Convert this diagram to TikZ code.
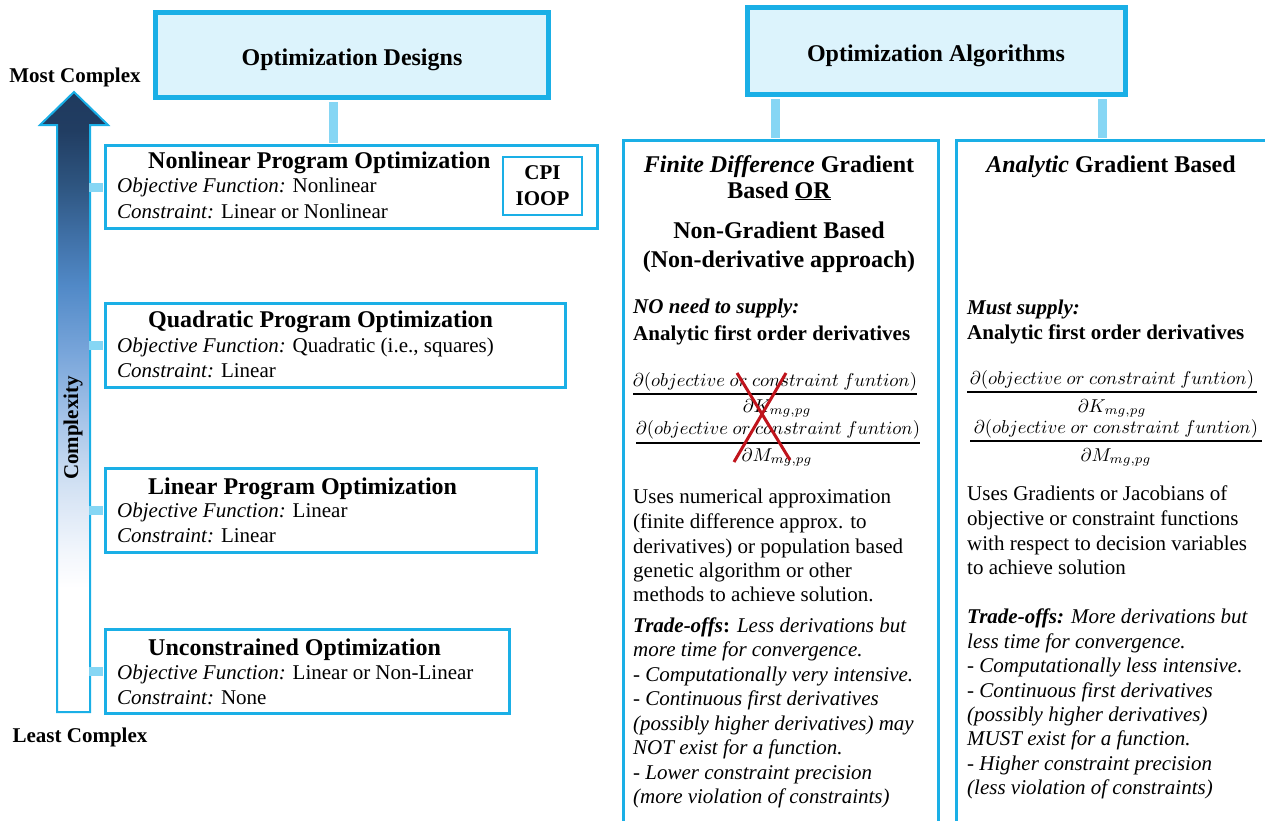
\documentclass[tikz,border=0pt]{standalone}
\usepackage{fontspec}
\setmainfont{Liberation Serif}
\definecolor{bord}{HTML}{1AAFE6}
\definecolor{conn}{HTML}{86D6F4}
\definecolor{hfill}{HTML}{DCF3FC}
\definecolor{xred}{HTML}{C0141C}
\definecolor{g1}{HTML}{1F3A5E}
\definecolor{g2}{HTML}{213D62}
\definecolor{g3}{HTML}{2E5580}
\definecolor{g4}{HTML}{3F6FA5}
\definecolor{g5}{HTML}{5189C7}
\definecolor{g6}{HTML}{78A5DA}
\definecolor{g7}{HTML}{A5C3E8}
\definecolor{g8}{HTML}{D2E1F3}
\definecolor{g9}{HTML}{F2F6FC}
\pgfdeclareverticalshading{cplxshade}{100bp}{color(0bp)=(white); color(35bp)=(white);
 color(37.9bp)=(g9); color(43.3bp)=(g8); color(48.7bp)=(g7); color(54bp)=(g6);
 color(59.4bp)=(g5); color(63.5bp)=(g4); color(67.5bp)=(g3); color(71.9bp)=(g2);
 color(75bp)=(g1); color(100bp)=(g1)}
\tikzset{
 hdr/.style={draw=bord, fill=hfill, line width=5pt, inner sep=0},
 hdrtxt/.style={font=\fontsize{24}{28}\selectfont\bfseries, anchor=base, inner sep=0},
 lbox/.style={draw=bord, line width=3pt, anchor=north west, inner sep=0},
 cbox/.style={draw=bord, line width=2.5pt, anchor=north west, inner sep=0},
 link/.style={draw=conn, line width=9pt},
 ttl/.style={font=\fontsize{24}{28}\selectfont\bfseries, anchor=base west, inner sep=0},
 ctl/.style={font=\fontsize{24}{28}\selectfont\bfseries, anchor=base, inner sep=0},
 txt/.style={font=\fontsize{21}{25}\selectfont, anchor=base west, inner sep=0},
 btxt/.style={font=\fontsize{21}{25}\selectfont\bfseries, anchor=base west, inner sep=0},
 itxt/.style={font=\fontsize{21}{25}\selectfont\itshape, anchor=base west, inner sep=0},
 lbl/.style={font=\fontsize{21}{25}\selectfont\bfseries, inner sep=0},
 fracpart/.style={font=\fontsize{10}{12}\selectfont, scale=1.86, inner sep=0, anchor=base},
 fracline/.style={draw=black, line width=1.6pt},
 xmark/.style={draw=xred, line width=3pt},
}
\begin{document}
\begin{tikzpicture}[x=1pt,y=-1pt]
\useasboundingbox (0,0) rectangle (1265,820);

% complexity arrow
\shadedraw[shading=cplxshade, draw=bord, line width=2pt]
 (57,712) -- (57,125) -- (40,125) -- (74,92) -- (108,125) -- (90,125) -- (90,712) -- cycle;
\node[lbl, anchor=base] (most) at (75,82) {Most Complex};
\node[lbl, anchor=base] (least) at (80,742) {Least Complex};
\node[lbl, rotate=90] (cplx) at (73,428) {Complexity};

% headers
\node[hdr, minimum width=393, minimum height=85] (des) at (351.5,54.5) {};
\node[hdrtxt] (dest) at (352,65) {Optimization Designs};
\node[hdr, minimum width=378, minimum height=87] (alg) at (936,50.5) {};
\node[hdrtxt] (algt) at (936,61) {Optimization Algorithms};

% left boxes
\node[lbox, minimum width=492, minimum height=83] (nl) at (104,144) {};
\node[lbox, minimum width=460, minimum height=84] (qp) at (104,302) {};
\node[lbox, minimum width=431, minimum height=84] (lp) at (104,467) {};
\node[lbox, minimum width=404, minimum height=84] (un) at (104,628) {};
\node[draw=bord, line width=2.5pt, minimum width=79, minimum height=58, align=center,
 font=\fontsize{21}{26}\selectfont\bfseries, inner sep=0] (cpi) at (542.5,186) {CPI\\IOOP};

% right columns
\node[cbox, minimum width=315, minimum height=720] (c1) at (622,139) {};
\node[cbox, minimum width=340, minimum height=720] (c2) at (955,139) {};

% connectors
\coordinate (x1) at (333,0);
\coordinate (x2) at (775,0);
\coordinate (x3) at (1102,0);
\coordinate (sh) at (89,0);
\draw[link, shorten <=2.5pt, shorten >=1.5pt] (des.south -| x1) -- (nl.north -| x1);
\draw[link, shorten <=2.5pt, shorten >=1.25pt] (alg.south -| x2) -- (c1.north -| x2);
\draw[link, shorten <=2.5pt, shorten >=1.25pt] (alg.south -| x3) -- (c2.north -| x3);
\draw[link, shorten >=1.5pt] (nl.west -| sh) -- (nl.west);
\draw[link, shorten >=1.5pt] (qp.west -| sh) -- (qp.west);
\draw[link, shorten >=1.5pt] (lp.west -| sh) -- (lp.west);
\draw[link, shorten >=1.5pt] (un.west -| sh) -- (un.west);

% left box texts
\node[ttl] (nlt) at (148,168) {Nonlinear Program Optimization};
\node[txt] (nl1) at (117,192) {\textit{Objective Function:} Nonlinear};
\node[txt] (nl2) at (117,218) {\textit{Constraint:} Linear or Nonlinear};
\node[ttl] (qpt) at (148,327) {Quadratic Program Optimization};
\node[txt] (qp1) at (117,352) {\textit{Objective Function:} Quadratic (i.e., squares)};
\node[txt] (qp2) at (117,377) {\textit{Constraint:} Linear};
\node[ttl] (lpt) at (148,494) {Linear Program Optimization};
\node[txt] (lp1) at (117,517) {\textit{Objective Function:} Linear};
\node[txt] (lp2) at (117,542) {\textit{Constraint:} Linear};
\node[ttl] (unt) at (148,655) {Unconstrained Optimization};
\node[txt] (un1) at (117,679) {\textit{Objective Function:} Linear or Non-Linear};
\node[txt] (un2) at (117,704) {\textit{Constraint:} None};

% column 1
\node[ctl] (h1a) at (779,172) {\textit{Finite Difference} Gradient};
\node[ctl] (h1b) at (779,198) {Based \underline{OR}};
\node[ctl] (h1c) at (779,238) {Non-Gradient Based};
\node[ctl] (h1d) at (779,267) {(Non-derivative approach)};
\node[btxt] (s1a) at (633,313) {\textit{NO need to supply:}};
\node[btxt] (s1b) at (633,340) {Analytic first order derivatives};
\node[fracpart] (n11) at (775,386) {$\partial(objective\ or\ constraint\ funtion)$};
\coordinate (r11a) at (633,394); \coordinate (r11b) at (917,394);
\draw[fracline] (r11a) -- (r11b);
\node[fracpart] (d11) at (777,412) {$\partial K_{mg,pg}$};
\node[fracpart] (n12) at (778,434) {$\partial(objective\ or\ constraint\ funtion)$};
\coordinate (r12a) at (636,443); \coordinate (r12b) at (920,443);
\draw[fracline] (r12a) -- (r12b);
\node[fracpart] (d12) at (777,461) {$\partial M_{mg,pg}$};
\coordinate (xa) at (737,373); \coordinate (xb) at (790,460);
\coordinate (xc) at (786,373); \coordinate (xd) at (734,462);
\draw[xmark] (xa) -- (xb);
\draw[xmark] (xc) -- (xd);
\node[txt] (b1a) at (633,503) {Uses numerical approximation};
\node[txt] (b1b) at (633,528) {(finite difference approx. to};
\node[txt] (b1c) at (633,553) {derivatives) or population based};
\node[txt] (b1d) at (633,577) {genetic algorithm or other};
\node[txt] (b1e) at (633,601) {methods to achieve solution.};
\node[itxt] (t1a) at (633,632) {\textbf{Trade-offs\upshape:} Less derivations but};
\node[itxt] (t1b) at (633,656) {more time for convergence.};
\node[itxt] (t1c) at (633,681) {- Computationally very intensive.};
\node[itxt] (t1d) at (633,705) {- Continuous first derivatives};
\node[itxt] (t1e) at (633,730) {(possibly higher derivatives) may};
\node[itxt] (t1f) at (633,754) {NOT exist for a function.};
\node[itxt] (t1g) at (633,779) {- Lower constraint precision};
\node[itxt] (t1h) at (633,803) {(more violation of constraints)};

% column 2
\node[ctl] (h2a) at (1111,172) {\textit{Analytic} Gradient Based};
\node[btxt] (s2a) at (967,314) {\textit{Must supply:}};
\node[btxt] (s2b) at (967,339) {Analytic first order derivatives};
\node[fracpart] (n21) at (1112,384) {$\partial(objective\ or\ constraint\ funtion)$};
\coordinate (r21a) at (967,392); \coordinate (r21b) at (1257,392);
\draw[fracline] (r21a) -- (r21b);
\node[fracpart] (d21) at (1112,412) {$\partial K_{mg,pg}$};
\node[fracpart] (n22) at (1116,433) {$\partial(objective\ or\ constraint\ funtion)$};
\coordinate (r22a) at (970,441); \coordinate (r22b) at (1262,441);
\draw[fracline] (r22a) -- (r22b);
\node[fracpart] (d22) at (1116,461) {$\partial M_{mg,pg}$};
\node[txt] (b2a) at (967,500) {Uses Gradients or Jacobians of};
\node[txt] (b2b) at (967,525) {objective or constraint functions};
\node[txt] (b2c) at (967,550) {with respect to decision variables};
\node[txt] (b2d) at (967,574) {to achieve solution};
\node[itxt] (t2a) at (967,623) {\textbf{Trade-offs:} More derivations but};
\node[itxt] (t2b) at (967,648) {less time for convergence.};
\node[itxt] (t2c) at (967,672) {- Computationally less intensive.};
\node[itxt] (t2d) at (967,697) {- Continuous first derivatives};
\node[itxt] (t2e) at (967,721) {(possibly higher derivatives)};
\node[itxt] (t2f) at (967,745) {MUST exist for a function.};
\node[itxt] (t2g) at (967,770) {- Higher constraint precision};
\node[itxt] (t2h) at (967,794) {(less violation of constraints)};
\end{tikzpicture}
\end{document}
